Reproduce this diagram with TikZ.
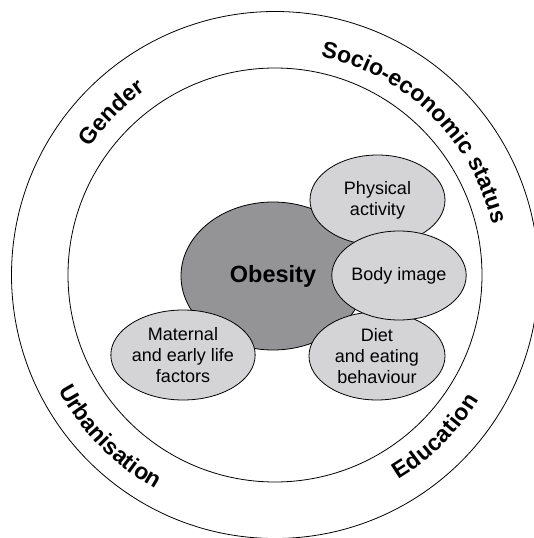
\documentclass[tikz,border=0pt]{standalone}
\usepackage{fontspec}
\setmainfont{Liberation Sans}
\usepackage{tikz}
\usetikzlibrary{shapes.geometric,decorations.text}
\definecolor{obesegray}{RGB}{148,148,151}
\definecolor{factorgray}{RGB}{212,212,214}
\tikzset{
  ring/.style={draw, line width=0.8pt},
  factor/.style={ellipse, draw, fill=factorgray, line width=0.8pt, inner sep=0pt, align=center, font=\fontsize{18}{21}\selectfont},
  ringlabel/.style={decorate, decoration={text along path, text align={fit to path}, text={|\bfseries\fontsize{23}{23}\selectfont|#1}}}
}

\begin{document}
\begin{tikzpicture}[x=1pt,y=1pt]
\useasboundingbox (-275,-263) rectangle (259,275);
\draw[ring] (0,0) circle (263.5);
\draw[ring] (0,0) circle (207);

\node[ellipse, draw, fill=obesegray, line width=0.8pt, minimum width=184pt, minimum height=148pt, font=\bfseries\fontsize{23.5}{24}\selectfont] (obesity) at (-2,-1) {Obesity};
\node[factor, minimum width=124pt, minimum height=90pt] (maternal) at (-92,-80) {Maternal\\and early life\\factors};
\node[factor, minimum width=135pt, minimum height=90pt] (physical) at (102.5,75) {Physical\\activity};
\node[factor, minimum width=136pt, minimum height=88pt] (diet) at (102,-81) {Diet\\and eating\\behaviour};
\node[factor, minimum width=134pt, minimum height=89pt] (body) at (124,-0.5) {Body image};

\path[ringlabel=Gender] (145.5:225) arc[start angle=145.5, end angle=125.4, radius=225];
\path[ringlabel=Socio-economic status] (78.2:223) arc[start angle=78.2, end angle=13.1, radius=223];
\path[ringlabel=Urbanisation] (208:245) arc[start angle=208, end angle=240.5, radius=245];
\path[ringlabel=Education] (-59:239) arc[start angle=-59, end angle=-31.5, radius=239];
\end{tikzpicture}
\end{document}
